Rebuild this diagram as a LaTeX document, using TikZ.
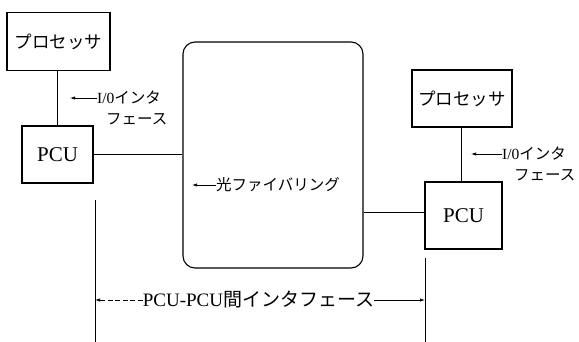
\documentclass[tikz,border=0pt]{standalone}
\usepackage{fontspec}
\setmainfont{Liberation Serif}
\newfontfamily\cjk{Noto Sans CJK JP}
\usetikzlibrary{arrows.meta}
\tikzset{
  box/.style={draw, line width=1.1pt, inner sep=0pt},
  wire/.style={line width=0.7pt},
  lbl/.style={inner sep=0pt, font=\fontsize{15.5}{17}\selectfont},
  ptr/.style={line width=0.7pt, -{Latex[length=5pt,width=3.2pt]}},
}
\begin{document}
\begin{tikzpicture}[x=1pt,y=-1pt]
\useasboundingbox (0,0) rectangle (579,342);
% left side
\node[box, minimum width=103pt, minimum height=58pt, font=\fontsize{17.5}{19}\selectfont\cjk] (procL) at (58.5,41.5) {プロセッサ};
\node[box, minimum width=71pt, minimum height=57pt, font=\fontsize{21}{23}\selectfont] (pcuL) at (57.5,154.5) {PCU};
\draw[wire] (procL.south -| pcuL.north) -- (pcuL.north);
\node[lbl, anchor=west] (ioL1) at (97,98) {I/0{\cjk インタ}};
\node[lbl, anchor=west] (ioL2) at (106,119) {\cjk フェース};
\draw[ptr] (ioL1.west) -- ++(-27,0) coordinate (ioLtip);
% ring
\node[draw, line width=1.1pt, rounded corners=12pt, minimum width=180pt, minimum height=226pt] (ring) at (273,155) {};
\node[lbl, anchor=west, font=\fontsize{15.5}{17}\selectfont\cjk] (ringlbl) at (216,185) {光ファイバリング};
\draw[ptr] (ringlbl.west) -- ++(-24,0) coordinate (ringtip);
\draw[wire] (pcuL.east) -- (pcuL.east -| ring.west);
% right side
\node[box, minimum width=100pt, minimum height=57pt, font=\fontsize{17.5}{19}\selectfont\cjk] (procR) at (462,98.5) {プロセッサ};
\node[box, minimum width=77pt, minimum height=67pt, font=\fontsize{21}{23}\selectfont] (pcuR) at (463.5,215.5) {PCU};
\draw[wire] (procR.south -| 461,0) -- (pcuR.north -| 461,0);
\node[lbl, anchor=west] (ioR1) at (502,154) {I/0{\cjk インタ}};
\node[lbl, anchor=west] (ioR2) at (514,175) {\cjk フェース};
\draw[ptr] (ioR1.west) -- ++(-31,0) coordinate (ioRtip);
\draw[wire] (ring.east |- 0,212) coordinate (rj) -- (rj -| pcuR.west);
% dimension
\coordinate (dL1) at (95,200);
\coordinate (dL2) at (95,342);
\coordinate (dR1) at (425,258);
\coordinate (dR2) at (425,342);
\draw[wire] (dL1) -- (dL2);
\draw[wire] (dR1) -- (dR2);
\node[lbl, font=\fontsize{19}{21}\selectfont] (dim) at (258.5,300) {PCU-PCU{\cjk 間インタフェース}};
\draw[ptr, dash pattern=on 5pt off 2.5pt] (dim.west) -- (dL1 |- dim.west);
\draw[ptr] (dim.east) -- (dR1 |- dim.east);
\end{tikzpicture}
\end{document}
